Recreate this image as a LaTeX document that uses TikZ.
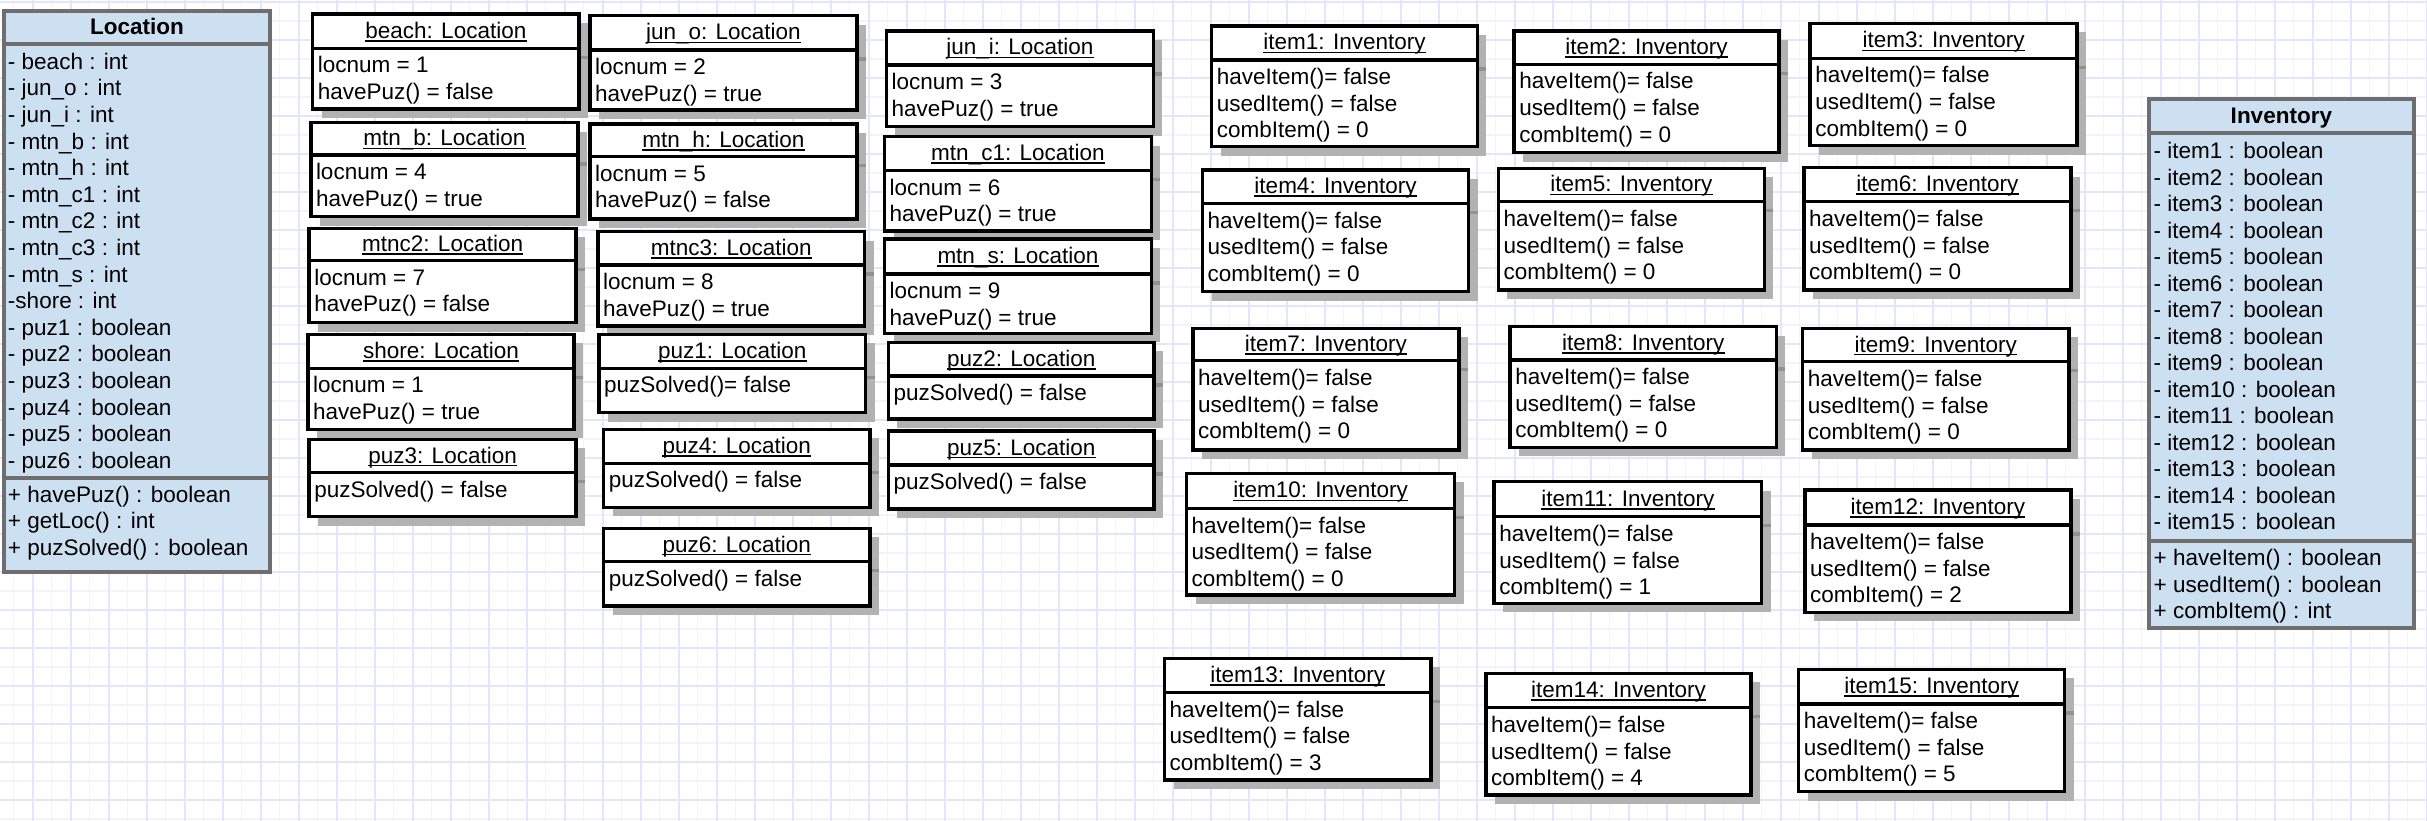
\documentclass[tikz,border=0pt]{standalone}
\usepackage{fontspec}
\setmainfont{Liberation Sans}
\definecolor{shadowgray}{RGB}{178,178,178}
\definecolor{shadowdark}{RGB}{145,145,145}
\definecolor{clsblue}{RGB}{204,224,242}
\definecolor{clsborder}{RGB}{110,110,110}
\definecolor{gridmajor}{RGB}{228,228,250}
\definecolor{gridminor}{RGB}{243,243,253}
\newcommand{\myfs}{\fontsize{22.5}{26.6}\selectfont}
\tikzset{
  objframe/.style={draw=black, line width=3.5pt, fill=white, inner sep=0pt, outer sep=0pt},
  sepline/.style={draw=black, line width=3.5pt},
  ulinestyle/.style={draw=black, line width=1.7pt},
  ttl/.style={font=\myfs, inner sep=0pt, anchor=base},
  row/.style={font=\myfs, inner sep=0pt, anchor=base west},
  clsframe/.style={draw=clsborder, line width=4pt, fill=clsblue, inner sep=0pt, outer sep=0pt},
  clsline/.style={draw=clsborder, line width=4pt},
  clsttl/.style={font=\myfs\bfseries, inner sep=0pt, anchor=base},
  minorgrid/.style={draw=gridminor, line width=1.3pt},
  majorgrid/.style={draw=gridmajor, line width=2pt},
}
% #1 id, #2 x1, #3 y1, #4 x2, #5 ysep, #6 y2, #7 title
\newcommand{\obox}[7]{%
  \fill[shadowgray] ({#2+9},{#3+9}) rectangle ({#4+9},{#6+9});
  \draw[shadowdark, line width=3.5pt] (#4,{#5+9}) -- ({#4+9},{#5+9});
  \node[objframe, minimum width={#4-#2}, minimum height={#6-#3}] (#1) at ({(#2+#4)/2},{(#3+#6)/2}) {};
  \draw[sepline] (#2,#5) -- (#4,#5);
  \node[ttl] (#1-title) at ({(#2+#4)/2},{(#3+#5)/2+7}) {#7};
  \draw[ulinestyle] ([yshift=-2.6pt]#1-title.base west) -- ([yshift=-2.6pt]#1-title.base east);
}
\newcommand{\locbox}[9]{%
  \obox{#1}{#2}{#3}{#4}{#5}{#6}{#7}
  \node[row] (#1-a) at ({#2+5},{#5+24.5}) {#8};
  \node[row] (#1-b) at ({#2+5},{#5+51.1}) {#9};
}
\newcommand{\puzbox}[8]{%
  \obox{#1}{#2}{#3}{#4}{#5}{#6}{#7}
  \node[row] (#1-a) at ({#2+5},{#5+24.5}) {#8};
}
\newcommand{\itembox}[7]{%
  \obox{item#1}{#2}{#3}{#4}{#5}{#6}{item#1: Inventory}
  \node[row] (item#1-a) at ({#2+5},{#5+24.7}) {haveItem()= false};
  \node[row] (item#1-b) at ({#2+5},{#5+51.3}) {usedItem() = false};
  \node[row] (item#1-c) at ({#2+5},{#5+77.9}) {combItem() = #7};
}
\begin{document}
\begin{tikzpicture}[x=1pt, y=-1pt]
\useasboundingbox (0,0) rectangle (2427,821);
\fill[white] (0,0) rectangle (2427,821);
% background grid
\foreach \i in {0,...,127} \draw[minorgrid] ({13.7+19*\i},0) -- ({13.7+19*\i},821);
\foreach \i in {0,...,43} \draw[minorgrid] (0,{2+19*\i}) -- (2427,{2+19*\i});
\foreach \i in {0,...,63} \draw[majorgrid] ({32.7+38*\i},0) -- ({32.7+38*\i},821);
\foreach \i in {0,...,21} \draw[majorgrid] (0,{2+38*\i}) -- (2427,{2+38*\i});

% ---- Location class ----
\node[clsframe, minimum width=266.2, minimum height=560.7] (locclass) at (136.9,291.35) {};
\draw[clsline] (locclass.west |- 0,44.3) -- (locclass.east |- 0,44.3);
\draw[clsline] (locclass.west |- 0,478.3) -- (locclass.east |- 0,478.3);
\node[clsttl] (loctitle) at (136.9,34.6) {Location};
\foreach \t [count=\i from 0] in {- beach : int, - jun\_o : int, - jun\_i : int, - mtn\_b : int, - mtn\_h : int, - mtn\_c1 : int, - mtn\_c2 : int, - mtn\_c3 : int, - mtn\_s : int, -shore : int, - puz1 : boolean, - puz2 : boolean, - puz3 : boolean, - puz4 : boolean, - puz5 : boolean, - puz6 : boolean}
  \node[row] (locattr\i) at (7.8,{69.3+26.6*\i}) {\t};
\foreach \t [count=\i from 0] in {+ havePuz() : boolean, + getLoc() : int, + puzSolved() : boolean}
  \node[row] (locmeth\i) at (7.8,{502+26.6*\i}) {\t};

% ---- Inventory class ----
\node[clsframe, minimum width=265.7, minimum height=529] (invclass) at (2281.35,363.8) {};
\draw[clsline] (invclass.west |- 0,133.3) -- (invclass.east |- 0,133.3);
\draw[clsline] (invclass.west |- 0,541) -- (invclass.east |- 0,541);
\node[clsttl] (invtitle) at (2281.35,123.3) {Inventory};
\foreach \i in {1,...,15}
  \node[row] (invattr\i) at (2153.5,{158.7+26.5*(\i-1)}) {- item\i\ : boolean};
\foreach \t [count=\i from 0] in {+ haveItem() : boolean, + usedItem() : boolean, + combItem() : int}
  \node[row] (invmeth\i) at (2153.5,{565.3+26.7*\i}) {\t};

% ---- Location objects ----
\locbox{beach}{312.7}{14}{579}{48.3}{109}{beach: Location}{locnum = 1}{havePuz() = false}
\locbox{mtnb}{310.8}{122.7}{577.9}{155}{216.7}{mtn\_b: Location}{locnum = 4}{havePuz() = true}
\locbox{mtnctwo}{309.2}{228.3}{576}{260.7}{322.7}{mtnc2: Location}{locnum = 7}{havePuz() = false}
\locbox{shore}{308}{334.3}{574}{368.3}{429.3}{shore: Location}{locnum = 1}{havePuz() = true}
\puzbox{puzthree}{309.2}{439.3}{576}{472.7}{516.7}{puz3: Location}{puzSolved() = false}
\locbox{juno}{589.9}{15.7}{856.8}{50}{110}{jun\_o: Location}{locnum = 2}{havePuz() = true}
\locbox{mtnh}{589.9}{124}{856.8}{156.7}{219}{mtn\_h: Location}{locnum = 5}{havePuz() = false}
\locbox{mtncthree}{597.8}{231.7}{864.7}{265}{326}{mtnc3: Location}{locnum = 8}{havePuz() = true}
\puzbox{puzone}{599}{334.3}{865.5}{368.3}{412.7}{puz1: Location}{puzSolved()= false}
\puzbox{puzfour}{603.7}{429.3}{869.8}{463.3}{507.3}{puz4: Location}{puzSolved() = false}
\puzbox{puzsix}{603.7}{528.3}{869.8}{561.7}{606}{puz6: Location}{puzSolved() = false}
\locbox{juni}{886.4}{31}{1153.3}{65}{126.7}{jun\_i: Location}{locnum = 3}{havePuz() = true}
\locbox{mtncone}{884.5}{136.7}{1151.4}{170.7}{231}{mtn\_c1: Location}{locnum = 6}{havePuz() = true}
\locbox{mtns}{884.5}{239}{1151.4}{274}{333.3}{mtn\_s: Location}{locnum = 9}{havePuz() = true}
\puzbox{puztwo}{888.4}{342.3}{1154.1}{376}{419}{puz2: Location}{puzSolved() = false}
\puzbox{puzfive}{888.4}{431}{1154.1}{465}{509}{puz5: Location}{puzSolved() = false}

% ---- Inventory objects ----
\itembox{1}{1211.6}{26}{1477.4}{60}{146.7}{0}
\itembox{2}{1514.1}{31}{1779}{64.3}{152.7}{0}
\itembox{3}{1810.1}{23.3}{2077.1}{58.3}{145.7}{0}
\itembox{4}{1202.5}{170}{1468.6}{203.3}{291.7}{0}
\itembox{5}{1498.3}{168.3}{1764.4}{201.7}{290}{0}
\itembox{6}{1803.9}{167.7}{2070.9}{201.7}{290}{0}
\itembox{7}{1193}{328.3}{1458.8}{360.7}{450}{0}
\itembox{8}{1510.2}{326.7}{1776.3}{360}{447.3}{0}
\itembox{9}{1802.7}{328.3}{2068.8}{361.7}{450}{0}
\itembox{10}{1186.5}{473.3}{1454.7}{508.3}{595}{0}
\itembox{11}{1494.1}{481.7}{1761.5}{516.7}{603.3}{1}
\itembox{12}{1804.8}{490}{2070.9}{525}{612.3}{2}
\itembox{13}{1164.5}{658.3}{1431}{692.3}{780}{3}
\itembox{14}{1485.8}{673.3}{1751.1}{707.7}{795}{4}
\itembox{15}{1798.6}{669.3}{2064.7}{704}{791.7}{5}
\end{tikzpicture}
\end{document}
